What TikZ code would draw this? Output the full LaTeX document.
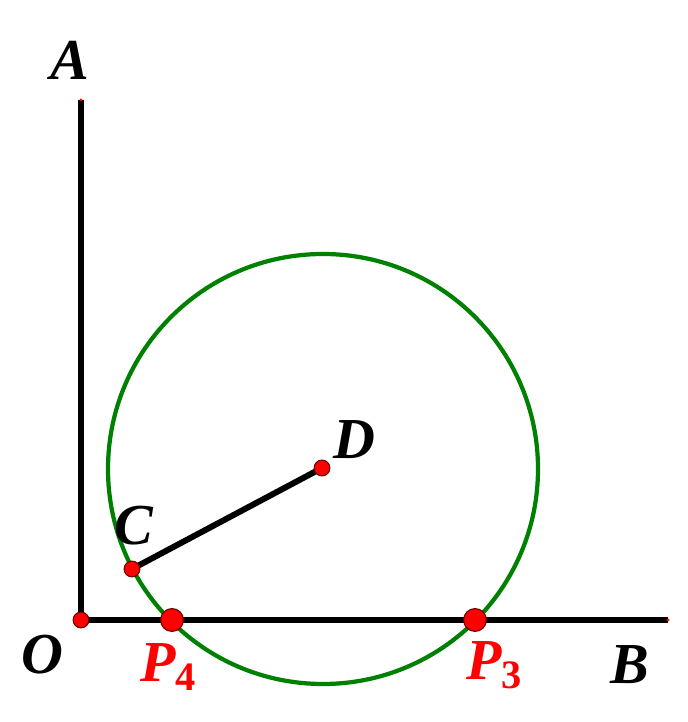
\documentclass[tikz,border=0pt]{standalone}
\usepackage{fontspec}
\setmainfont{Liberation Serif}
\usetikzlibrary{positioning}
\tikzset{
  ray/.style={line width=3.4pt, black},
  ptdot/.style={circle, fill=red, draw=red!40!black, line width=0.6pt, inner sep=0pt, minimum size=#1},
  ptdot/.default=9pt,
  lbl/.style={font=\fontsize{33}{35}\selectfont\bfseries\itshape},
}
\newcommand{\subidx}[1]{\raisebox{-0.35ex}{\fontsize{23}{25}\selectfont\upshape #1}}
\begin{document}
\begin{tikzpicture}[x=0.02cm,y=0.02cm]
    \useasboundingbox (0,0) rectangle (688,722);
    % points
    \coordinate (O) at (81,102);
    \coordinate (A) at (81,622);
    \coordinate (B) at (668,102);
    \coordinate (C) at (132,153);
    \coordinate (D) at (322,254);
    \coordinate (P4) at (172,102);
    \coordinate (P3) at (475,102);
    % circle
    \draw[line width=2.4pt, green!50!black] (323,253) circle[radius=215];
    % sides of the angle
    \draw[ray] (A) -- (O) -- (B);
    \draw[ray] (C) -- (D);
    % small ends
    \fill[red] (A) circle[radius=1.6];
    \fill[red] (B) circle[radius=1.6];
    % dots
    \node[ptdot] (dotO) at (O) {};
    \node[ptdot] (dotC) at (C) {};
    \node[ptdot] (dotD) at (D) {};
    \node[ptdot=13pt] (dotP4) at (P4) {};
    \node[ptdot=13pt] (dotP3) at (P3) {};
    % labels
    \node[lbl] (labA) at (70,662) {A};
    \node[lbl] (labO) at (42,67) {O};
    \node[lbl] (labC) at (134,196) {C};
    \node[lbl] (labD) at (354,282) {D};
    \node[lbl, red] (labP4) at (168,55) {P\subidx{4}};
    \node[lbl, red] (labP3) at (494,57) {P\subidx{3}};
    \node[lbl] (labB) at (630,57) {B};
\end{tikzpicture}
\end{document}
